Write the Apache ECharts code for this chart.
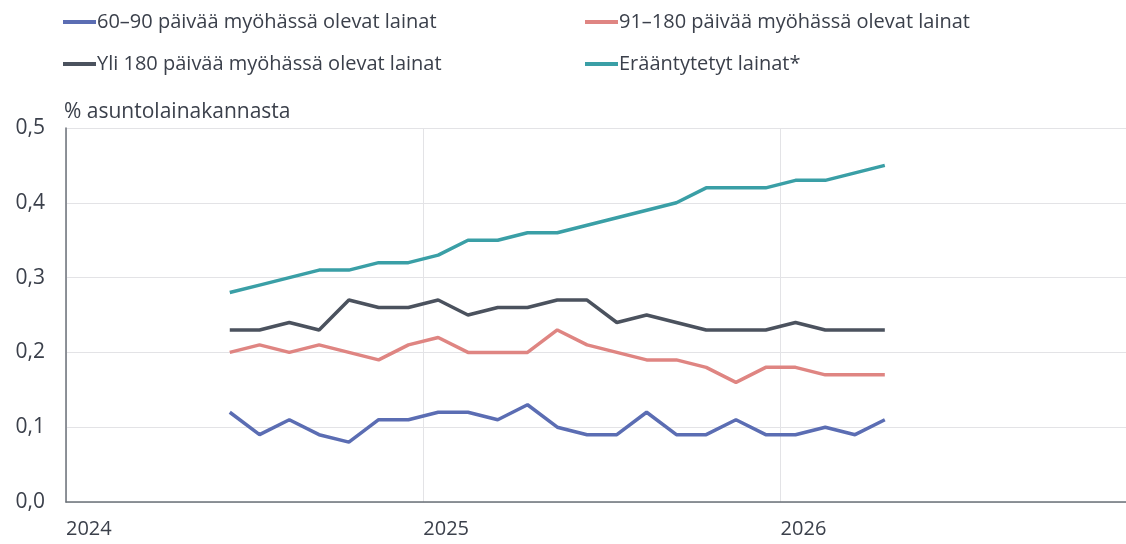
<!DOCTYPE html>
<html><head><meta charset="utf-8">
<script src="https://cdn.jsdelivr.net/npm/echarts@6/dist/echarts.min.js"></script>
<style>html,body{margin:0;padding:0;background:#fff}#c{width:1126px;height:544px}</style>
</head><body><div id="c"></div>
<script>
const months = ["2024-06","2024-07","2024-08","2024-09","2024-10","2024-11","2024-12",
  "2025-01","2025-02","2025-03","2025-04","2025-05","2025-06","2025-07","2025-08","2025-09","2025-10","2025-11","2025-12",
  "2026-01","2026-02","2026-03","2026-04"];
const s60_90 = [0.12,0.09,0.11,0.09,0.08,0.11,0.11,0.12,0.12,0.11,0.13,0.10,0.09,0.09,0.12,0.09,0.09,0.11,0.09,0.09,0.10,0.09,0.11];
const s91_180 = [0.20,0.21,0.20,0.21,0.20,0.19,0.21,0.22,0.20,0.20,0.20,0.23,0.21,0.20,0.19,0.19,0.18,0.16,0.18,0.18,0.17,0.17,0.17];
const sOver180 = [0.23,0.23,0.24,0.23,0.27,0.26,0.26,0.27,0.25,0.26,0.26,0.27,0.27,0.24,0.25,0.24,0.23,0.23,0.23,0.24,0.23,0.23,0.23];
const sDue = [0.28,0.29,0.30,0.31,0.31,0.32,0.32,0.33,0.35,0.35,0.36,0.36,0.37,0.38,0.39,0.40,0.42,0.42,0.42,0.43,0.43,0.44,0.45];
const yTicks = ["0,0","0,1","0,2","0,3","0,4","0,5"];
const xTicks = ["2024","2025","2026",""];
const legendNames = ["60–90 päivää myöhässä olevat lainat","91–180 päivää myöhässä olevat lainat","Yli 180 päivää myöhässä olevat lainat","Erääntytetyt lainat*"];
const colors = ["#5b6db3","#df8582","#4b525e","#3a9fa6"];
const values = [s60_90, s91_180, sOver180, sDue];

// month position on an axis counted in months from the start of 2024 (mid-month)
function monthPos(s){ const [y,m] = s.split('-').map(Number); return (y-2024)*12 + (m-1) + 0.5; }

const font = "'Open Sans', sans-serif";
const textColor = "#3b404b";
const chart = echarts.init(document.getElementById('c'));
const legendPos = [[58,7],[580,7],[58,49],[580,49]];
chart.setOption({
  animation:false,
  textStyle:{fontFamily:font},
  legend: legendNames.map((n,i)=>({
    data:[n], left:legendPos[i][0], top:legendPos[i][1], icon:'rect', itemWidth:33, itemHeight:4, itemGap:0,
    textStyle:{fontSize:20, color:textColor, fontFamily:font, padding:[0,0,0,-4]}
  })),
  grid:{left:66, right:0, top:128, bottom:42, containLabel:false},
  xAxis:{
    type:'value', min:0, max:35.6, interval:12,
    axisLine:{show:true, lineStyle:{color:'#6b7178', width:1.5}},
    axisTick:{show:false},
    splitLine:{show:true, lineStyle:{color:'#e3e3e6', width:1}},
    axisLabel:{show:true, fontSize:20, color:textColor, fontFamily:font, align:'left', margin:17,
      showMaxLabel:false, formatter:(v)=>xTicks[Math.round(v/12)]}
  },
  yAxis:{
    type:'value', min:0, max:0.5, interval:0.1,
    name:'% asuntolainakannasta', nameLocation:'end', nameGap:5,
    nameTextStyle:{fontSize:21, color:textColor, fontFamily:font, align:'left', padding:[0,0,0,-2]},
    axisLine:{show:true, lineStyle:{color:'#6b7178', width:1.5}},
    axisTick:{show:false},
    splitLine:{show:true, lineStyle:{color:'#e3e3e6', width:1}},
    axisLabel:{fontSize:21, color:textColor, fontFamily:font, margin:21,
      formatter:(v)=>yTicks[Math.round(v*10)]}
  },
  series: values.map((arr,i)=>({
    name:legendNames[i], type:'line', symbol:'none', color:colors[i],
    lineStyle:{width:3.5, color:colors[i]},
    data: arr.map((v,j)=>[monthPos(months[j]), v])
  }))
});
</script></body></html>
